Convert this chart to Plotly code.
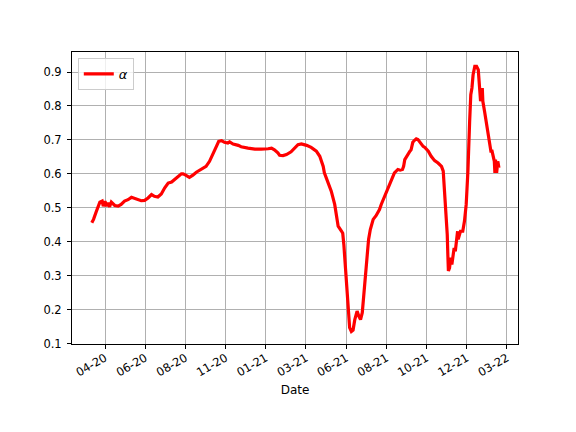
import pandas as pd
import plotly.graph_objects as go

# Reference date and day offsets
start_date = "2020-04-10"
day_offset = [
    -23, -20, -15, -9, -5, -3, 0, 2, 5, 8, 11, 17, 23, 28, 34, 40, 46, 52, 58, 63,
    69, 75, 81, 86, 92, 98, 104, 110, 116, 121, 127, 133, 136, 139, 147, 153, 159, 165,
    171, 176, 182, 188, 194, 198, 203, 208, 214, 217, 223, 232, 237, 249, 261, 272,
    278, 284, 290, 295, 301, 304, 310, 316, 324, 330, 336, 342, 351, 359, 368, 374,
    380, 382, 388, 394, 400, 403, 406, 412, 414, 416, 418, 420, 422, 424, 426, 429,
    432, 435, 439, 442, 445, 448, 450, 453, 455, 459, 462, 467, 472, 478, 481, 487,
    493, 499, 504, 510, 514, 518, 520, 522, 525, 528, 531, 533, 536, 539, 542, 545,
    548, 554, 557, 560, 563, 568, 574, 580, 586, 589, 591, 594, 596, 597, 598, 600,
    602, 604, 606, 608, 610, 612, 614, 615, 617, 619, 623, 626, 629, 632, 635, 637,
    639, 641, 644, 647, 650, 652, 654, 657, 658, 661, 664, 667, 670, 672, 674, 676,
    678, 679, 680, 682, 684, 686,
]
alpha_values = [
    0.456, 0.466, 0.490, 0.517, 0.520, 0.505, 0.520, 0.505, 0.515, 0.503, 0.517, 0.507,
    0.505, 0.510, 0.520, 0.524, 0.531, 0.527, 0.524, 0.521, 0.522, 0.529, 0.539, 0.534,
    0.532, 0.541, 0.559, 0.573, 0.576, 0.583, 0.593, 0.600, 0.600, 0.598, 0.590, 0.596,
    0.605, 0.611, 0.618, 0.622, 0.637, 0.657, 0.681, 0.696, 0.698, 0.693, 0.691, 0.694,
    0.688, 0.684, 0.680, 0.676, 0.673, 0.673, 0.673, 0.674, 0.676, 0.671, 0.662, 0.655,
    0.654, 0.657, 0.665, 0.674, 0.686, 0.688, 0.684, 0.678, 0.667, 0.652, 0.622, 0.603,
    0.578, 0.549, 0.510, 0.480, 0.446, 0.431, 0.425, 0.390, 0.340, 0.304, 0.245, 0.176,
    0.147, 0.136, 0.140, 0.171, 0.196, 0.181, 0.171, 0.191, 0.230, 0.289, 0.348, 0.407,
    0.436, 0.466, 0.477, 0.495, 0.510, 0.534, 0.564, 0.588, 0.603, 0.613, 0.611, 0.613,
    0.622, 0.642, 0.652, 0.657, 0.667, 0.671, 0.693, 0.699, 0.703, 0.701, 0.693, 0.681,
    0.678, 0.672, 0.667, 0.652, 0.639, 0.632, 0.622, 0.608, 0.559, 0.490, 0.421, 0.363,
    0.314, 0.323, 0.353, 0.333, 0.353, 0.382, 0.372, 0.402, 0.431, 0.407, 0.421, 0.431,
    0.431, 0.461, 0.510, 0.608, 0.755, 0.833, 0.853, 0.892, 0.917, 0.917, 0.907, 0.853,
    0.814, 0.853, 0.814, 0.784, 0.755, 0.716, 0.696, 0.667, 0.667, 0.647, 0.637, 0.603,
    0.642, 0.603, 0.637, 0.618,
]

tick_dates = ["2020-04-10", "2020-06-19", "2020-08-28", "2020-11-06", "2021-01-15",
              "2021-03-26", "2021-06-04", "2021-08-13", "2021-10-22", "2021-12-31",
              "2022-03-11"]
tick_labels = ["04-20", "06-20", "08-20", "11-20", "01-21", "03-21", "06-21",
               "08-21", "10-21", "12-21", "03-22"]
y_ticks = [0.1, 0.2, 0.3, 0.4, 0.5, 0.6, 0.7, 0.8, 0.9]

dates = pd.Timestamp(start_date) + pd.to_timedelta(day_offset, unit="D")

fig = go.Figure()
fig.add_trace(go.Scatter(
    x=dates, y=alpha_values, mode="lines", name="<i>α</i>",
    line=dict(color="#ff0000", width=3.2),
))

axis_common = dict(
    showline=True, linecolor="black", linewidth=1, mirror=True,
    showgrid=True, gridcolor="#b0b0b0", gridwidth=0.8,
    ticks="outside", ticklen=4, tickwidth=1, tickcolor="black",
    zeroline=False,
    tickfont=dict(family="DejaVu Sans", size=11.5, color="black"),
)

# page body has an 8px margin, so the figure is 8px smaller and offset
fig.update_layout(
    width=568, height=424,
    margin=dict(l=64, r=58, t=44, b=88),
    paper_bgcolor="white", plot_bgcolor="white",
    font=dict(family="DejaVu Sans", size=11, color="black"),
    showlegend=True,
    legend=dict(
        x=0.013, y=0.98, xanchor="left", yanchor="top",
        bordercolor="#cccccc", borderwidth=1, bgcolor="rgba(255,255,255,0.8)",
        font=dict(family="DejaVu Sans", size=13, color="black"),
        itemwidth=30,
    ),
    xaxis=dict(
        axis_common,
        type="date",
        range=["2020-02-12 12:00", "2022-03-30 05:00"],
        tickvals=tick_dates, ticktext=tick_labels, tickangle=-30,
        ticklabelstandoff=-2,
        title=dict(text="Date", standoff=7,
                   font=dict(family="DejaVu Sans", size=12, color="black")),
        automargin=False,
    ),
    yaxis=dict(
        axis_common,
        range=[0.099, 0.959],
        tickvals=y_ticks, ticktext=[f"{v:.1f}" for v in y_ticks],
        ticklabelstandoff=3,
        automargin=False,
    ),
)

fig.write_html("out.html")
